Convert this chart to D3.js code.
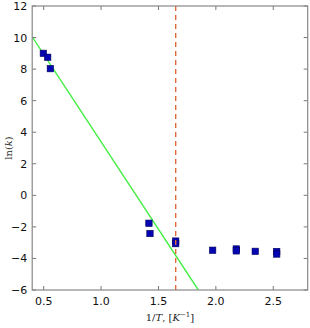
<!DOCTYPE html>
<html><head><meta charset="utf-8">
<script src="https://cdn.jsdelivr.net/npm/d3@7"></script>
<style>body{margin:0;background:#fff}svg{display:block}</style>
</head><body>
<script>
const invT = [0.497, 0.535, 0.558, 1.417, 1.426, 1.65, 1.65, 1.972, 2.178, 2.178, 2.343, 2.53, 2.53];
const lnK  = [9.0, 8.75, 8.03, -1.77, -2.42, -2.9, -3.06, -3.48, -3.4, -3.52, -3.55, -3.56, -3.72];
const fitX = [0.4, 1.847];
const fitY = [10.05, -6];
const vlineX = [1.65];
const xTicks = [0.5, 1.0, 1.5, 2.0, 2.5];
const yTicks = [-6, -4, -2, 0, 2, 4, 6, 8, 10, 12];

const W = 310, H = 328;
const m = {l: 32.2, r: 2.3, t: 6, b: 38};
const svg = d3.select("body").append("svg").attr("width", W).attr("height", H);
const x = d3.scaleLinear().domain([0.4, 2.8]).range([m.l, W - m.r]);
const y = d3.scaleLinear().domain([-6, 12]).range([H - m.b, m.t]);

svg.append("clipPath").attr("id","c").append("rect")
  .attr("x", m.l).attr("y", m.t).attr("width", W - m.r - m.l).attr("height", H - m.b - m.t);
const g = svg.append("g").attr("clip-path","url(#c)");

g.append("line").attr("x1", x(fitX[0])).attr("y1", y(fitY[0])).attr("x2", x(fitX[1])).attr("y2", y(fitY[1]))
  .attr("stroke", "#44ee44").attr("stroke-width", 1.4);

const fmt = v => (v < 0 ? "\u2212" : "") + Math.abs(v);
const fmtX = v => v.toFixed(1);
const ax = svg.append("g").attr("font-family", "DejaVu Sans, sans-serif").attr("font-size", 11).attr("fill", "#111");

g.selectAll("rect.pt").data(invT).enter().append("rect").attr("class","pt")
  .attr("x", (d,i) => x(d) - 3.2).attr("y", (d,i) => y(lnK[i]) - 3.2)
  .attr("width", 6.4).attr("height", 6.4)
  .attr("fill", "#0505b4").attr("stroke", "#00005a").attr("stroke-width", 0.6);

g.selectAll("line.v").data(vlineX).enter().append("line")
  .attr("x1", d => x(d)).attr("x2", d => x(d)).attr("y1", m.t).attr("y2", H - m.b)
  .attr("stroke", "#e0683a").attr("stroke-width", 1.4).attr("stroke-dasharray", "5,4");

const tl = 4;
const tk = svg.append("g").attr("stroke", "#555").attr("stroke-width", 0.8);
xTicks.forEach(v => {
  tk.append("line").attr("x1", x(v)).attr("x2", x(v)).attr("y1", H - m.b).attr("y2", H - m.b - tl);
  tk.append("line").attr("x1", x(v)).attr("x2", x(v)).attr("y1", m.t).attr("y2", m.t + tl);
  ax.append("text").attr("x", x(v)).attr("y", H - m.b + 15).attr("text-anchor", "middle").text(fmtX(v));
});
yTicks.forEach(v => {
  tk.append("line").attr("x1", m.l).attr("x2", m.l + tl).attr("y1", y(v)).attr("y2", y(v));
  tk.append("line").attr("x1", W - m.r).attr("x2", W - m.r - tl).attr("y1", y(v)).attr("y2", y(v));
  ax.append("text").attr("x", m.l - 5).attr("y", y(v) + 4).attr("text-anchor", "end").text(fmt(v));
});

svg.append("rect").attr("x", m.l).attr("y", m.t).attr("width", W - m.r - m.l).attr("height", H - m.b - m.t)
  .attr("fill", "none").attr("stroke", "#888").attr("stroke-width", 1.2);

const xl = svg.append("text").attr("x", (m.l + W - m.r) / 2).attr("y", 321).attr("text-anchor", "middle")
  .attr("font-family", "DejaVu Serif, serif").attr("font-size", 10).attr("fill", "#222");
xl.append("tspan").text("1/");
xl.append("tspan").attr("font-style", "italic").text("T");
xl.append("tspan").text(", [");
xl.append("tspan").attr("font-style", "italic").text("K");
xl.append("tspan").attr("font-size", 7).attr("dy", -4).text("\u22121");
xl.append("tspan").attr("dy", 4).text("]");

const yl = svg.append("text").attr("transform", `translate(12,${(m.t + H - m.b) / 2}) rotate(-90)`)
  .attr("text-anchor", "middle").attr("font-family", "DejaVu Serif, serif").attr("font-size", 10).attr("fill", "#222");
yl.append("tspan").text("ln(");
yl.append("tspan").attr("font-style", "italic").text("k");
yl.append("tspan").text(")");
</script>
</body></html>
